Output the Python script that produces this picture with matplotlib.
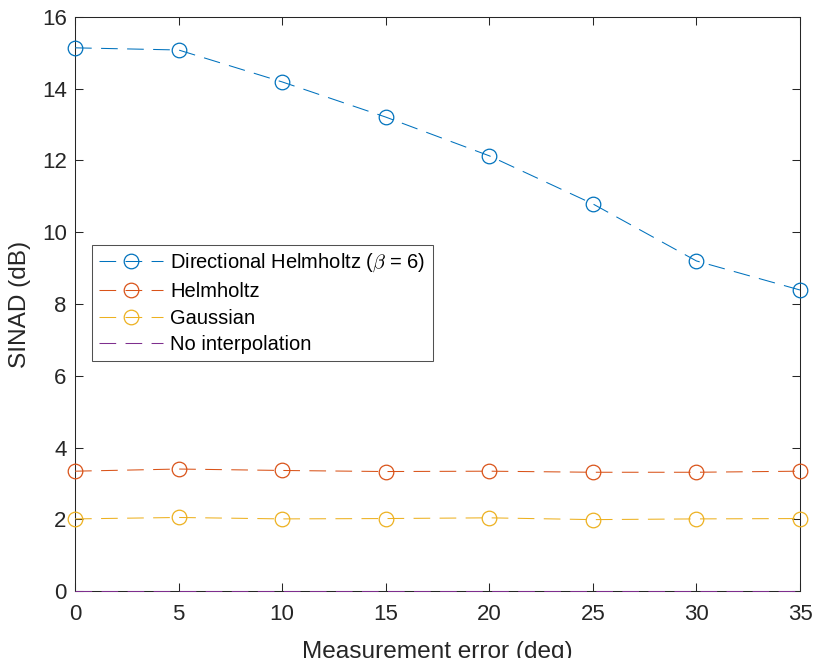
import numpy as np
import matplotlib.pyplot as plt

plt.rcParams['font.family'] = ['Liberation Sans', 'DejaVu Sans']
plt.rcParams['mathtext.fontset'] = 'cm'

# SINAD vs. measurement error for each interpolation method
error_deg = [0, 5, 10, 15, 20, 25, 30, 35]
directional = [15.14, 15.08, 14.19, 13.21, 12.13, 10.79, 9.20, 8.39]
helmholtz = [3.34, 3.40, 3.36, 3.33, 3.34, 3.31, 3.31, 3.34]
gaussian = [2.01, 2.05, 2.01, 2.02, 2.04, 1.99, 2.01, 2.02]
no_interp = [0, 0, 0, 0, 0, 0, 0, 0]

labels = [r'Directional Helmholtz ($\beta$ = 6)', 'Helmholtz', 'Gaussian',
          'No interpolation']
colors = ['#0072BD', '#D95319', '#EDB120', '#7E2F8E']

fig = plt.figure(figsize=(8.13, 6.58), dpi=100)
ax = fig.add_axes([0.0923, 0.1018, 0.8917, 0.8724])

dash = (0, (16, 9))
series = [directional, helmholtz, gaussian]
for vals, lab, col in zip(series, labels[:3], colors[:3]):
    ax.plot(error_deg, vals, linestyle=dash, color=col, lw=0.75,
            marker='o', markersize=10.5, markerfacecolor='none',
            markeredgewidth=0.9, label=lab, clip_on=False, zorder=3)
ax.plot(error_deg, no_interp, linestyle=dash, color=colors[3], lw=0.75,
        label=labels[3], clip_on=False, zorder=3)

ax.set_xlim(0, 35)
ax.set_ylim(0, 16)
ax.set_xticks(np.arange(0, 36, 5))
ax.set_yticks(np.arange(0, 17, 2))

axis_col = '#262626'
for sp in ax.spines.values():
    sp.set_color(axis_col)
    sp.set_linewidth(0.75)
ax.tick_params(direction='in', length=6, width=0.75, colors=axis_col,
               labelsize=16, top=True, right=True)
ax.tick_params(axis='x', pad=9)
ax.tick_params(axis='y', pad=6)

ax.set_xlabel('Measurement error (deg)', fontsize=17.6, color=axis_col,
              labelpad=12)
ax.set_ylabel('SINAD (dB)', fontsize=17.6, color=axis_col, labelpad=8)

leg = ax.legend(loc='upper left', bbox_to_anchor=(0.023, 0.603),
                fontsize=14.5, frameon=True, fancybox=False,
                handlelength=3.2, handletextpad=0.35, borderpad=0.35,
                labelspacing=0.38, borderaxespad=0)
leg.get_frame().set_edgecolor(axis_col)
leg.get_frame().set_linewidth(0.75)

fig.savefig('out.png', dpi=100)
